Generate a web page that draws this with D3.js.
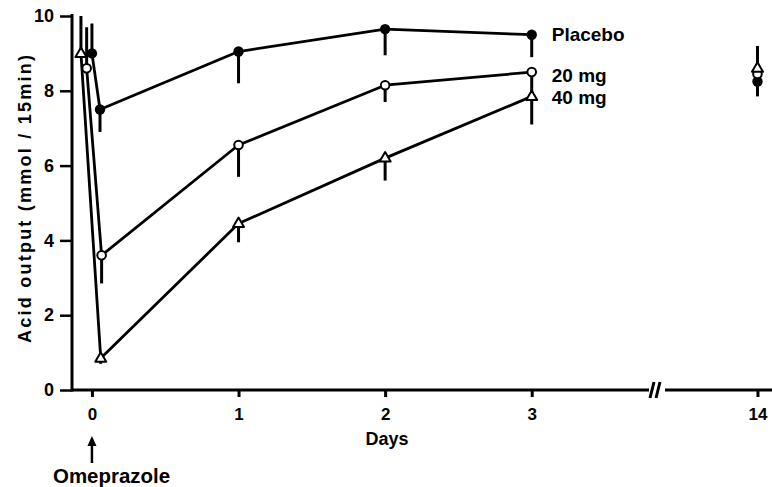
<!DOCTYPE html>
<html>
<head>
<meta charset="utf-8">
<script src="https://cdn.jsdelivr.net/npm/d3@7"></script>
<style>
  body { margin: 0; background: white; }
  svg { display: block; }
  text { font-family: "Liberation Sans", Arial, sans-serif; fill: black; font-weight: bold; }
</style>
</head>
<body>
<svg id="graph"></svg>
<script>
const width = 772;
const height = 487;

// Days after omeprazole (first point of each series is the pre-dose value).
const timesPlacebo = [0.0, 0.055, 1, 2, 3, 14];
const times20 = [-0.036, 0.066, 1, 2, 3, 14];
const times40 = [-0.075, 0.06, 1, 2, 3, 14];

// Acid output, mmol / 15 min.
const placebo = [9.0, 7.5, 9.05, 9.65, 9.5, 8.25];
const mg20 = [8.6, 3.6, 6.55, 8.15, 8.5, 8.45];
const mg40 = [9.0, 0.85, 4.45, 6.2, 7.85, 8.6];

// End of the one-sided error bar for each point (null = none drawn).
const placeboBar = [9.8, 6.9, 8.2, 8.95, 8.9, 7.85];
const mg20Bar = [9.7, 2.85, 5.7, 7.7, 7.95, null];
const mg40Bar = [10.0, 0.7, 3.95, 5.6, 7.1, 9.2];

const seriesNames = ["Placebo", "20 mg", "40 mg"];
const xTickValues = [0, 1, 2, 3, 14];
const yTickValues = [0, 2, 4, 6, 8, 10];

// The axis is broken between day 3.8 and day 13.3.
const xScale = d3.scaleLinear()
  .domain([-0.136, 3.8, 13.3, 14.11])
  .range([72, 649, 665, 772]);
const yScale = d3.scaleLinear()
  .domain([0, 10])
  .range([390, 16]);

var svg = d3.select("#graph")
  .attr("width", width)
  .attr("height", height);

const series = [
  {name: seriesNames[0], t: timesPlacebo, v: placebo, bar: placeboBar, marker: "dot", dy: 6},
  {name: seriesNames[1], t: times20, v: mg20, bar: mg20Bar, marker: "circle", dy: 10},
  {name: seriesNames[2], t: times40, v: mg40, bar: mg40Bar, marker: "triangle", dy: 8},
];

// Axes.
const xAxis = g => g
  .attr("transform", `translate(0,${yScale(0)})`)
  .call(d3.axisBottom(xScale).tickValues(xTickValues).tickSize(7).tickPadding(11))
  .call(g => g.select(".domain").remove())
  .call(g => g.selectAll(".tick line").attr("stroke", "black").attr("stroke-width", 3))
  .call(g => g.selectAll(".tick text").attr("font-size", 17));
const yAxis = g => g
  .attr("transform", `translate(${xScale.range()[0]},0)`)
  .call(d3.axisLeft(yScale).tickValues(yTickValues).tickSize(12).tickPadding(6))
  .call(g => g.select(".domain").remove())
  .call(g => g.selectAll(".tick line").attr("stroke", "black").attr("stroke-width", 2.5))
  .call(g => g.selectAll(".tick text").attr("font-size", 18));

svg.append("g").call(xAxis);
svg.append("g").call(yAxis);

const axisY = yScale(0);
const x0 = xScale.range()[0];
// x axis line, in two pieces with the break marks
svg.append("line")
  .attr("x1", x0).attr("x2", xScale(3.8))
  .attr("y1", axisY).attr("y2", axisY)
  .attr("stroke", "black").attr("stroke-width", 3);
svg.append("line")
  .attr("x1", xScale(13.3)).attr("x2", width)
  .attr("y1", axisY).attr("y2", axisY)
  .attr("stroke", "black").attr("stroke-width", 3);
for (const bx of [xScale(3.8) + 3, xScale(3.8) + 9]) {
  svg.append("line")
    .attr("x1", bx - 2).attr("x2", bx + 2)
    .attr("y1", axisY + 8).attr("y2", axisY - 8)
    .attr("stroke", "black").attr("stroke-width", 3);
}
// y axis line
svg.append("line")
  .attr("x1", x0).attr("x2", x0)
  .attr("y1", axisY + 1.5).attr("y2", yScale(10) - 2)
  .attr("stroke", "black").attr("stroke-width", 3);

// Axis titles.
svg.append("text")
  .attr("x", 387).attr("y", 445)
  .attr("text-anchor", "middle")
  .attr("font-size", 18)
  .text("Days");
svg.append("text")
  .attr("transform", "translate(31,199) rotate(-90)")
  .attr("text-anchor", "middle")
  .attr("font-size", 18)
  .attr("textLength", 288)
  .attr("lengthAdjust", "spacing")
  .text("Acid output  (mmol / 15min)");

// Omeprazole arrow at day 0.
const ax = xScale(0);
svg.append("line")
  .attr("x1", ax).attr("x2", ax)
  .attr("y1", 463).attr("y2", 442)
  .attr("stroke", "black").attr("stroke-width", 2.5);
svg.append("path")
  .attr("d", `M${ax - 4.5},${446} L${ax},${436} L${ax + 4.5},${446} Z`)
  .attr("fill", "black");
svg.append("text")
  .attr("x", 53).attr("y", 483)
  .attr("font-size", 20)
  .attr("textLength", 117)
  .attr("lengthAdjust", "spacingAndGlyphs")
  .text("Omeprazole");

// Error bars.
series.forEach(s => {
  s.v.forEach((v, i) => {
    if (s.bar[i] == null) return;
    svg.append("line")
      .attr("x1", xScale(s.t[i])).attr("x2", xScale(s.t[i]))
      .attr("y1", yScale(v)).attr("y2", yScale(s.bar[i]))
      .attr("stroke", "black").attr("stroke-width", 3);
  });
});

// Connecting lines (day 14 is not joined).
const line = d3.line()
  .x(d => xScale(d[0]))
  .y(d => yScale(d[1]));
series.forEach(s => {
  const pts = s.t.map((t, i) => [t, s.v[i]]).filter(d => d[0] <= 3);
  svg.append("path")
    .datum(pts)
    .attr("fill", "none")
    .attr("stroke", "black")
    .attr("stroke-width", 2.8)
    .attr("stroke-linejoin", "round")
    .attr("d", line);
});

// Markers.
function drawMarker(kind, cx, cy) {
  if (kind == "dot") {
    svg.append("circle").attr("cx", cx).attr("cy", cy).attr("r", 5.2).attr("fill", "black");
  } else if (kind == "circle") {
    svg.append("circle").attr("cx", cx).attr("cy", cy).attr("r", 4.3)
      .attr("fill", "white").attr("stroke", "black").attr("stroke-width", 2);
  } else {
    svg.append("path")
      .attr("d", `M${cx},${cy - 6} L${cx + 5.5},${cy + 3.5} L${cx - 5.5},${cy + 3.5} Z`)
      .attr("fill", "white").attr("stroke", "black").attr("stroke-width", 2)
      .attr("stroke-linejoin", "round");
  }
}
series.forEach(s => {
  s.v.forEach((v, i) => drawMarker(s.marker, xScale(s.t[i]), yScale(v)));
});

// Series labels next to day 3.
series.forEach(s => {
  svg.append("text")
    .attr("x", xScale(3) + 20)
    .attr("y", yScale(s.v[4]) + s.dy)
    .attr("font-size", 19)
    .text(s.name);
});
</script>
</body>
</html>
